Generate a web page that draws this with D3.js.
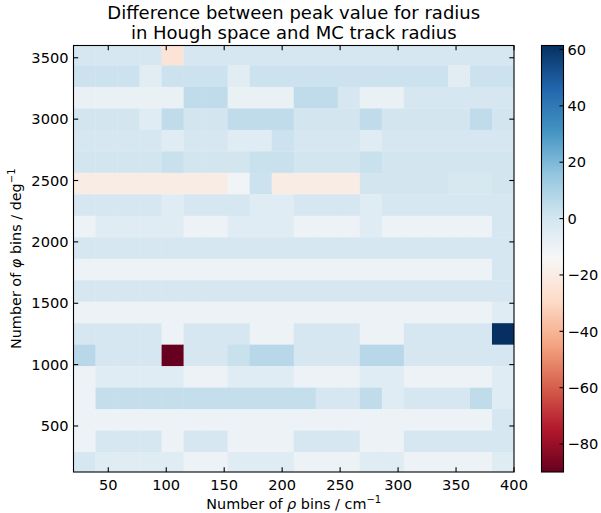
<!DOCTYPE html>
<html>
<head>
<meta charset="UTF-8">
<style>
  body { margin: 0; background: #fff; }
  svg { display: block; font-family: "DejaVu Sans", sans-serif; }
</style>
</head>
<body>
<svg></svg>
<script src="https://d3js.org/d3.v7.min.js"></script>
<script>

// number of rho bins (columns, left to right)
const rhoBins = [20, 40, 60, 80, 100, 120, 140, 160, 180, 200,
                 220, 240, 260, 280, 300, 320, 340, 360, 380, 400];

// number of phi bins (row centres, top to bottom)
const phiBins = [3525, 3350, 3175, 3000, 2825, 2650, 2475, 2300, 2125, 1950,
                 1775, 1600, 1425, 1250, 1075, 900, 725, 550, 375, 200];

// difference values, one row per phi bin (same order as phiBins)
const diffRows = [
  [-1,-1,-1,-1,-25,-1,-1,-1,-1,-1, -1,-1,-1,-1,-1,-1,-1,-1,-1,-1],
  [2,2,2,-6,2,2,2,-6,2,2, 2,2,2,2,2,2,2,-6,2,2],
  [-9,-9,-9,-9,-9,5,5,-9,-9,-9, 5,5,-1,-9,-9,-1,-1,-1,-1,-1],
  [0,0,0,-5,5,0,0,5,5,5, 0,0,0,5,0,0,0,0,5,0],
  [-1,-1,-1,-1,-5,-1,-1,-5,-5,2, -1,-1,-1,-5,-1,-1,-1,-1,-1,-1],
  [0,0,0,0,3,0,0,0,3,3, 0,0,0,3,0,0,0,0,0,0],
  [-20,-20,-20,-20,-20,-20,-20,-12,2,-20, -20,-20,-20,0,0,0,0,-2,-2,0],
  [-1,-1,-1,-1,-5,-1,-1,-1,-5,-5, -1,-1,-1,-5,-1,-1,-1,-1,-1,-1],
  [-10,-5,-5,-5,-5,-10,-10,-5,-5,-5, -10,-10,-10,-5,-10,-10,-10,-10,-10,-1],
  [-1,-1,-1,-1,-1,-1,-1,-1,-1,-1, -1,-1,-1,-1,-1,-1,-1,-1,-1,-1],
  [-10,-10,-10,-10,-10,-10,-10,-10,-10,-10, -10,-10,-10,-10,-10,-10,-10,-10,-10,-1],
  [-1,-1,-1,-1,-1,-1,-1,-1,-1,-1, -1,-1,-1,-1,-1,-1,-1,-1,-1,-1],
  [-10,-10,-10,-10,-10,-10,-10,-10,-10,-10, -10,-10,-10,-10,-10,-10,-10,-10,-10,-5],
  [-1,-1,-1,-1,-10,-1,-1,-1,-10,-10, -1,-1,-1,-10,-10,-1,-1,-1,-1,61.4],
  [7,-1,-1,-1,-89.9,-1,-1,3,7,7, -1,-1,-1,7,7,-1,-1,-1,-1,-1],
  [-10,-5,-5,-5,-5,-10,-10,-5,-5,-5, -10,-10,-10,-5,-5,-10,-10,-10,-10,-5],
  [-10,4,4,4,4,4,4,4,4,4, 4,-1,-1,5,-5,-1,-1,-1,5,-5],
  [-10,-10,-10,-10,-10,-10,-10,-10,-10,-10, -10,-10,-10,-10,-10,-10,-10,-10,-10,-1],
  [-10,-1,-1,-1,-10,-1,-1,-10,-10,-10, -1,-1,-1,-10,-10,-1,-1,-1,-1,-1],
  [-1,-5,-5,-5,-5,-10,-10,-5,-5,-5, -10,-10,-10,-5,-5,-10,-10,-10,-10,-5]
];

const xTicks = [50, 100, 150, 200, 250, 300, 350, 400];
const yTicks = [500, 1000, 1500, 2000, 2500, 3000, 3500];
const cbarTicks = [60, 40, 20, 0, -20, -40, -60, -80];

// matplotlib RdBu
const rdbu = ["#67001f", "#b2182b", "#d6604d", "#f4a582", "#fddbc7", "#f7f7f7",
              "#d1e5f0", "#92c5de", "#4393c3", "#2166ac", "#053061"];

let width = 601, height = 513;
let svg = d3.select("svg").attr("width", width).attr("height", height);

let pLeft = 73.5, pRight = 514, pTop = 45.5, pBottom = 472;
let fs = 14.6;

let x = d3.scaleLinear().domain([20, 400]).range([pLeft, pRight]);
let y = d3.scaleLinear().domain([125, 3600]).range([pBottom, pTop]);

let xBand = d3.scaleBand().domain(rhoBins).range([x(20), x(400)]).padding(0);
let half = (phiBins[0] - phiBins[1]) / 2;

let allVals = diffRows.flat();
let vmin = d3.min(allVals), vmax = d3.max(allVals);
let color = d3.scaleLinear()
    .domain(rdbu.map((c, i) => vmin + i / (rdbu.length - 1) * (vmax - vmin)))
    .range(rdbu)
    .interpolate(d3.interpolateRgb);

svg.append("clipPath").attr("id", "plotclip")
  .append("rect")
    .attr("x", pLeft).attr("y", pTop)
    .attr("width", pRight - pLeft).attr("height", pBottom - pTop);

// cells
let cells = [];
diffRows.forEach((row, j) => row.forEach((v, i) => {
    cells.push({ rho: rhoBins[i], phi: phiBins[j], v: v });
}));

svg.append("g")
    .attr("clip-path", "url(#plotclip)")
    .selectAll("rect")
    .data(cells)
    .enter()
    .append("rect")
    .attr("x", d => xBand(d.rho))
    .attr("width", xBand.bandwidth() + 0.3)
    .attr("y", d => y(d.phi + half))
    .attr("height", d => y(d.phi - half) - y(d.phi + half) + 0.3)
    .attr("fill", d => color(d.v));

// frame and ticks
let axes = svg.append("g").attr("stroke", "#000").attr("stroke-width", 1.1);
let tl = 4.7;
xTicks.forEach(t => {
    axes.append("line").attr("x1", x(t)).attr("x2", x(t)).attr("y1", pBottom).attr("y2", pBottom - tl);
    axes.append("line").attr("x1", x(t)).attr("x2", x(t)).attr("y1", pTop).attr("y2", pTop + tl);
});
yTicks.forEach(t => {
    axes.append("line").attr("y1", y(t)).attr("y2", y(t)).attr("x1", pLeft).attr("x2", pLeft + tl);
    axes.append("line").attr("y1", y(t)).attr("y2", y(t)).attr("x1", pRight).attr("x2", pRight - tl);
});
axes.append("rect")
    .attr("x", pLeft).attr("y", pTop)
    .attr("width", pRight - pLeft).attr("height", pBottom - pTop)
    .attr("fill", "none");

// tick labels
svg.append("g")
    .selectAll("text")
    .data(xTicks)
    .enter()
    .append("text")
    .attr("x", d => x(d))
    .attr("y", 489.5)
    .attr("text-anchor", "middle")
    .attr("font-size", fs)
    .text(d => d);

svg.append("g")
    .selectAll("text")
    .data(yTicks)
    .enter()
    .append("text")
    .attr("x", 68.5)
    .attr("y", d => y(d))
    .attr("dy", "0.36em")
    .attr("text-anchor", "end")
    .attr("font-size", fs)
    .text(d => d);

// axis labels
let xl = svg.append("text")
    .attr("x", (pLeft + pRight) / 2)
    .attr("y", 509)
    .attr("text-anchor", "middle")
    .attr("font-size", 14.4);
xl.append("tspan").text("Number of ");
xl.append("tspan").attr("font-style", "italic").text("ρ");
xl.append("tspan").text(" bins / cm");
xl.append("tspan").attr("dy", -6).attr("font-size", 10).text("−1");

let yl = svg.append("text")
    .attr("transform", "translate(20.5," + (pTop + pBottom) / 2 + ") rotate(-90)")
    .attr("text-anchor", "middle")
    .attr("font-size", 14.4);
yl.append("tspan").text("Number of ");
yl.append("tspan").attr("font-style", "italic").text("φ");
yl.append("tspan").text(" bins / deg");
yl.append("tspan").attr("dy", -6).attr("font-size", 10).text("−1");

// title
let title = svg.append("text")
    .attr("text-anchor", "middle")
    .attr("font-size", 18);
title.append("tspan").attr("x", (pLeft + pRight) / 2).attr("y", 18.5).text("Difference between peak value for radius");
title.append("tspan").attr("x", (pLeft + pRight) / 2).attr("y", 38.5).text("in Hough space and MC track radius");

// colorbar
let cbX = 541.5, cbW = 22;
let cbScale = d3.scaleLinear().domain([vmin, vmax]).range([pBottom, pTop]);

let grad = svg.append("defs").append("linearGradient")
    .attr("id", "cbgrad")
    .attr("x1", 0).attr("y1", 1).attr("x2", 0).attr("y2", 0);
d3.range(0, 1.0001, 0.02).forEach(f => {
    grad.append("stop")
        .attr("offset", f)
        .attr("stop-color", color(vmin + f * (vmax - vmin)));
});

svg.append("rect")
    .attr("x", cbX).attr("y", pTop)
    .attr("width", cbW).attr("height", pBottom - pTop)
    .attr("fill", "url(#cbgrad)")
    .attr("stroke", "#000")
    .attr("stroke-width", 1.1);

let cb = svg.append("g");
cbarTicks.forEach(t => {
    cb.append("line")
        .attr("x1", cbX + cbW).attr("x2", cbX + cbW - 4)
        .attr("y1", cbScale(t)).attr("y2", cbScale(t))
        .attr("stroke", "#000").attr("stroke-width", 1.1);
    cb.append("text")
        .attr("x", cbX + cbW + 4)
        .attr("y", cbScale(t))
        .attr("dy", "0.36em")
        .attr("font-size", fs)
        .text(d3.format("d")(t));
});

</script>
</body>
</html>
